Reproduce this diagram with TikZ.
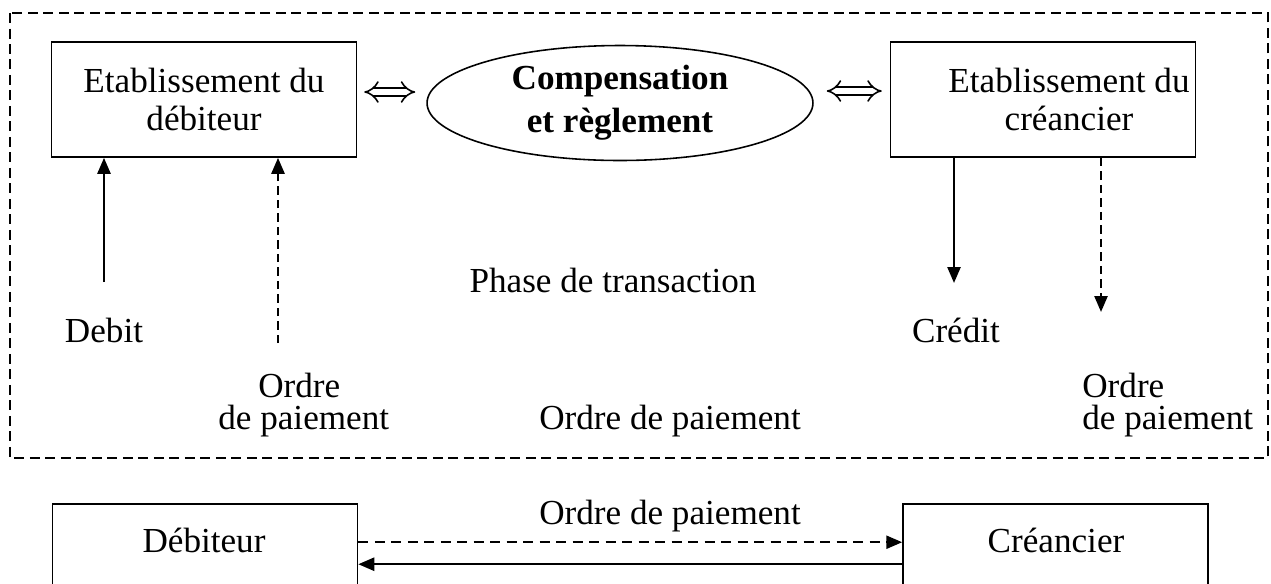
\documentclass[tikz,border=0pt]{standalone}
\usepackage{fontspec}
\setmainfont{Liberation Serif}
\usetikzlibrary{positioning,shapes.geometric,arrows.meta}

\begin{document}
\begin{tikzpicture}[x=0.02cm,y=-0.02cm,
    every node/.style={font=\fontsize{20}{21.6}\selectfont,inner sep=0pt},
    box/.style={draw,line width=0.9pt,minimum width=6.1cm,minimum height=2.3cm},
    tip/.style={-{Triangle[length=0.32cm,width=0.26cm]},line width=1.4pt},
    dashes/.style={dash pattern=on 0.17cm off 0.1cm},
    swap/.style={double,double distance=0.12cm,line width=0.9pt,
      {Implies[length=0.26cm,width=0.52cm]}-{Implies[length=0.26cm,width=0.52cm]}}]
      \useasboundingbox (0,0) rectangle (1271,583);
      \clip (0,0) rectangle (1271,583);
      % phase de transaction
      \draw[line width=1.6pt,dash pattern=on 0.2cm off 0.11cm] (10,13) rectangle (1268,458);
      \node[box,align=center](deb) at (204,99.5){Etablissement du\\d\'ebiteur};
      \node[box](cre) at (1043,99.5){};
      \node[align=center](cretxt) at (1069,99){Etablissement du\\cr\'eancier};
      \node[draw,ellipse,line width=0.9pt,minimum width=7.72cm,minimum height=2.3cm,
        align=center,font=\bfseries\fontsize{20}{24.5}\selectfont](comp) at (620,103){Compensation\\et r\`eglement};
      \coordinate (swl) at ([yshift=0.15cm]deb.east);
      \draw[swap,shorten <=0.14cm,shorten >=0.22cm] (swl) -- (swl -| comp.west);
      \coordinate (swr) at ([yshift=0.17cm]cre.west);
      \draw[swap,shorten <=0.16cm,shorten >=0.26cm] (swr) -- (swr -| comp.east);
      % fleches verticales
      \coordinate (debitpt) at (104,282);
      \draw[tip] (debitpt) -- (debitpt |- deb.south);
      \coordinate (ordrept) at (278,343);
      \draw[tip,dashes] (ordrept) -- (ordrept |- deb.south);
      \coordinate (creditpt) at (954,283);
      \draw[tip] (creditpt |- cre.south) -- (creditpt);
      \coordinate (ordre2pt) at (1101,312);
      \draw[tip,dashes] (ordre2pt |- cre.south) -- (ordre2pt);
      \node(debit) at (104,330){Debit};
      \node[anchor=west](ordre1) at (258,385){Ordre};
      \node[anchor=west](paie1) at (218,421){de paiement};
      \node(phase) at (613,280){Phase de transaction};
      \node(ordremid) at (670,421){Ordre de paiement};
      \node(credit) at (956,330){Cr\'edit};
      \node[anchor=west](ordre2) at (1082,385){Ordre};
      \node[anchor=west](paie2) at (1082,421){de paiement};
      % debiteur et creancier
      \node[box](deb2) at (205,561.5){};
      \node(deb2txt) at (204,540){D\'ebiteur};
      \node[box](cre2) at (1055.5,561.5){};
      \node(cre2txt) at (1056,540){Cr\'eancier};
      \coordinate (dashl) at ([yshift=-0.78cm]deb2.north east);
      \draw[tip,dashes,dash pattern=on 0.2cm off 0.13cm] (dashl) -- (dashl -| cre2.west);
      \coordinate (liner) at ([yshift=-1.22cm]cre2.north west);
      \draw[tip] (liner) -- (liner -| deb2.east);
      \node(ordrebas) at (670,516){Ordre de paiement};
\end{tikzpicture}
\end{document}
